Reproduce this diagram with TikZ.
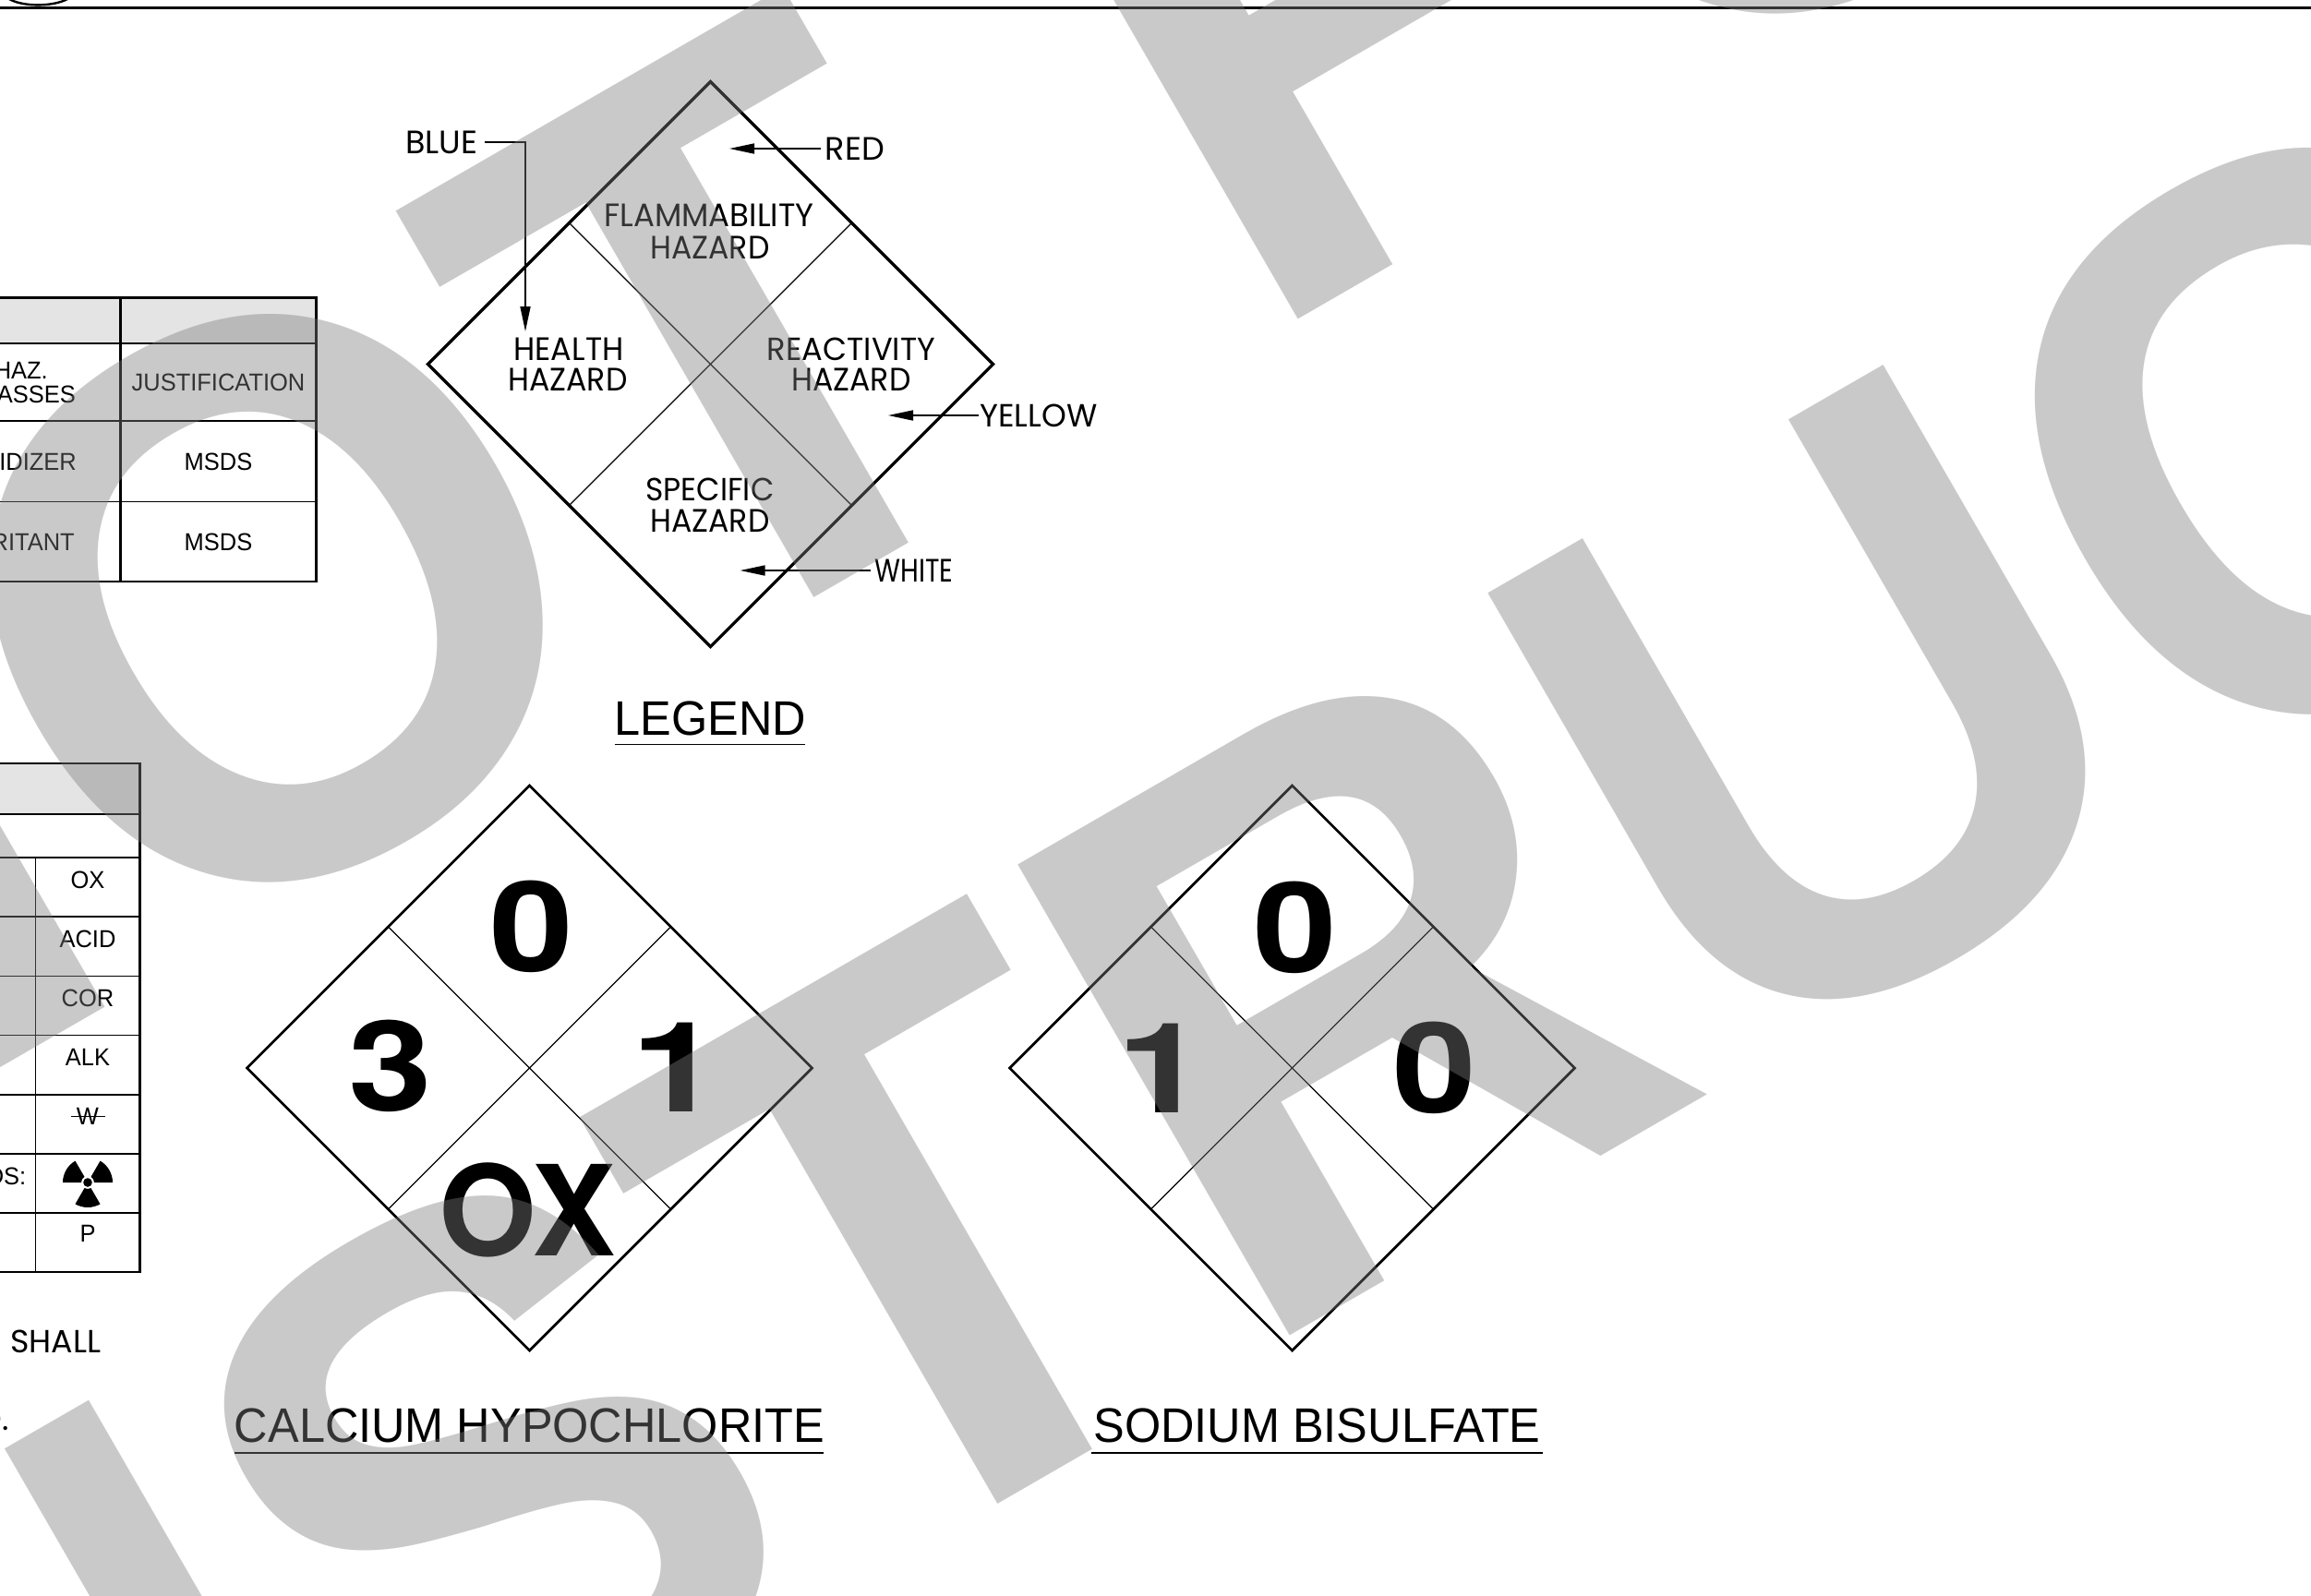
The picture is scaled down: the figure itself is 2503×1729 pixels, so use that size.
\documentclass[tikz,border=0pt]{standalone}
\usepackage{graphicx}
\usepackage{fontspec}
\setmainfont{Liberation Sans}[FakeStretch=0.961]
\newfontfamily\cadfont{Poppins}
\newfontfamily\wmfont{Liberation Sans Bold}[FakeStretch=0.961]
\newfontfamily\digfont{TeX Gyre Heros Bold}
\usetikzlibrary{arrows.meta,calc}
\newcommand\cw[2]{\resizebox{#1pt}{24.5pt}{\cadfont #2}}
\newcommand\sw[2]{\scalebox{#1}[1]{#2}}
\definecolor{hdr}{HTML}{E4E4E4}
\tikzset{
  thickln/.style={line width=2.8pt,black},
  midln/.style={line width=1.7pt,black},
  thinln/.style={line width=1.2pt,black},
  headfill/.style={fill=hdr,draw=none},
  tabtxt/.style={inner sep=0pt,font=\fontsize{26.5}{29}\selectfont,align=center},
  cadtxt/.style={inner sep=0pt,anchor=center},
  ldr/.style={line width=1.6pt,black,-{Triangle[length=27pt,width=11pt]}},
  title/.style={inner sep=0pt,anchor=base,font=\fontsize{52.5}{52.5}\selectfont},
  big/.style={inner sep=0pt,anchor=center,font=\digfont\fontsize{136}{136}\selectfont},
  undl/.style={line width=1.5pt,black},
  wm/.style={inner sep=0pt,anchor=base west,rotate=30,text=black!51,text opacity=0.41,font=\wmfont\fontsize{856}{856}\selectfont}
}
\begin{document}
\begin{tikzpicture}[x=1pt,y=-1pt]
\useasboundingbox (0,0) rectangle (2503,1729);
\fill[white] (0,0) rectangle (2503,1729);

% top border
\draw[line width=3.6pt] (0,8.5) -- (2503,8.5);
\draw[line width=2.4pt] (10,-1) .. controls (25,7.5) and (57,7.5) .. (73,-1);

% table 1
\fill[headfill] (0,322.7) rectangle (342.3,372);
\draw[thickln] (0,322.7) -- (342.3,322.7) -- (342.3,630) -- (0,630);
\draw[thickln] (130.7,322.7) -- (130.7,630);
\draw[midln] (0,372) -- (342.3,372);
\draw[midln] (0,456) -- (342.3,456);
\draw[thinln] (0,543.7) -- (342.3,543.7);
\node[tabtxt,anchor=east] (t1a) at (52,401.5) {HAZ.};
\node[tabtxt,anchor=east] (t1b) at (82,427) {ASSES};
\node[tabtxt,anchor=east] (t1c) at (83,500.5) {IDIZER};
\node[tabtxt,anchor=east] (t1d) at (81,587.5) {RITANT};
\node[tabtxt] (t1e) at (236.5,414) {JUSTIFICATION};
\node[tabtxt] (t1f) at (236.5,500.5) {MSDS};
\node[tabtxt] (t1g) at (236.5,587.5) {MSDS};

% table 2
\fill[headfill] (0,827) rectangle (151.7,881.7);
\draw[thickln] (0,827) -- (151.7,827) -- (151.7,1378) -- (0,1378);
\draw[midln] (0,881.7) -- (151.7,881.7);
\draw[midln] (0,929) -- (151.7,929);
\foreach \yy in {993,1057.7,1121.7,1186,1250,1314} \draw[thinln] (0,\yy) -- (151.7,\yy);
\draw[thinln] (38.7,929) -- (38.7,1378);
\node[tabtxt] (c1) at (95,953.5) {OX};
\node[tabtxt] (c2) at (95,1017.5) {ACID};
\node[tabtxt] (c3) at (95,1081.5) {COR};
\node[tabtxt] (c4) at (95,1145.5) {ALK};
\node[tabtxt] (c5) at (95,1209.5) {W};
\draw[line width=1.2pt] (77,1209.5) -- (114,1209.5);
\node[tabtxt,anchor=east] (c6) at (28.5,1274.5) {DS:};
\node[tabtxt] (c7) at (95,1336.5) {P};
% radiation symbol
\begin{scope}[shift={(95,1281)}]
\fill (-60:7) -- (-60:27) arc[start angle=-60,end angle=0,radius=27] -- (0:7) arc[start angle=0,end angle=-60,radius=7] -- cycle;
\fill (-180:7) -- (-180:27) arc[start angle=-180,end angle=-120,radius=27] -- (-120:7) arc[start angle=-120,end angle=-180,radius=7] -- cycle;
\fill (60:7) -- (60:27) arc[start angle=60,end angle=120,radius=27] -- (120:7) arc[start angle=120,end angle=60,radius=7] -- cycle;
\fill (0,0) circle[radius=4.8];
\end{scope}
\node[cadtxt] (shall) at (60.5,1453) {\resizebox{98pt}{24.5pt}{\cadfont SHALL}};
\node[inner sep=0pt,anchor=base east] (dot) at (10,1549) {\cadfont\fontsize{35}{35}\selectfont D.};

% legend diamond
\coordinate (lt) at (769.5,88.5);
\coordinate (lr) at (1075.5,394.5);
\coordinate (lb) at (769.5,700.5);
\coordinate (ll) at (463.5,394.5);
\draw[line width=3.2pt,line join=miter] (lt) -- (lr) -- (lb) -- (ll) -- cycle;
\draw[thinln] ($(lt)!0.5!(ll)$) -- ($(lr)!0.5!(lb)$);
\draw[thinln] ($(lt)!0.5!(lr)$) -- ($(ll)!0.5!(lb)$);
\node[cadtxt] (l1) at (768,233) {\cw{227}{FLAMMABILITY}};
\node[cadtxt] (l2) at (769,268) {\cw{129}{HAZARD}};
\node[cadtxt] (l3) at (616,378) {\cw{119}{HEALTH}};
\node[cadtxt] (l4) at (615,411) {\cw{129}{HAZARD}};
\node[cadtxt] (l5) at (922,378) {\cw{182}{REACTIVITY}};
\node[cadtxt] (l6) at (922,411) {\cw{129}{HAZARD}};
\node[cadtxt] (l7) at (769,530) {\cw{139}{SPECIFIC}};
\node[cadtxt] (l8) at (769,564) {\cw{129}{HAZARD}};

\node[cadtxt,minimum width=93pt] (nblue) at (478,154) {\cw{78}{BLUE}};
\node[cadtxt,minimum width=74pt] (nred) at (926,161) {\cw{64}{RED}};
\node[cadtxt,minimum width=130pt] (nyellow) at (1125,450) {\cw{127}{YELLOW}};
\node[cadtxt,minimum width=94pt] (nwhite) at (990,618) {\cw{85}{WHITE}};
\coordinate (tblue) at (569,359);
\coordinate (tred) at (790,161);
\coordinate (tyellow) at (962,450);
\coordinate (twhite) at (801.6,618);
\draw[ldr] (nblue.east) -| (tblue);
\draw[ldr] (nred.west) -- (tred);
\draw[ldr] (nyellow.west) -- (tyellow);
\draw[ldr] (nwhite.west) -- (twhite);

\node[title] (tleg) at (769.5,796.5) {LEGEND};
\coordinate (ua) at (665.5,806.5);
\coordinate (ub) at (872,806.5);
\draw[undl] (ua) -- (ub);

% chemical diamonds
\foreach \cx in {573.5,1399.5}{
  \draw[line width=2.8pt] (\cx,851) -- (\cx+306,1157) -- (\cx,1463) -- (\cx-306,1157) -- cycle;
  \draw[thinln] (\cx-153,1004) -- (\cx+153,1310);
  \draw[thinln] (\cx+153,1004) -- (\cx-153,1310);
}
\node[big] (a0) at (576,1004) {\sw{1.2}{0}};
\node[big] (a3) at (423,1155) {\sw{1.2}{3}};
\node[big] (a1) at (733,1156) {\sw{1.3}{1}};
\node[big] (ax) at (571,1311) {OX};
\node[big] (b0) at (1402.5,1005) {\sw{1.2}{0}};
\node[big] (b1) at (1259,1157) {\sw{1.3}{1}};
\node[big] (b2) at (1554,1157) {\sw{1.2}{0}};

\node[title] (ta) at (573.5,1562.5) {CALCIUM HYPOCHLORITE};
\coordinate (uc) at (254,1574);
\coordinate (ud) at (892,1574);
\draw[undl] (uc) -- (ud);
\node[title] (tb) at (1426.5,1562.5) {SODIUM BISULFATE};
\coordinate (ue) at (1182,1574);
\coordinate (uf) at (1671,1574);
\draw[undl] (ue) -- (uf);

% watermark on top
\node[wm] (wm1) at (-353,1361) {NOT};
\node[wm] (wm3) at (1358,374) {FOR};
\node[wm] (wm2) at (-1144,2914) {CONSTRUCTION};
\end{tikzpicture}
\end{document}
